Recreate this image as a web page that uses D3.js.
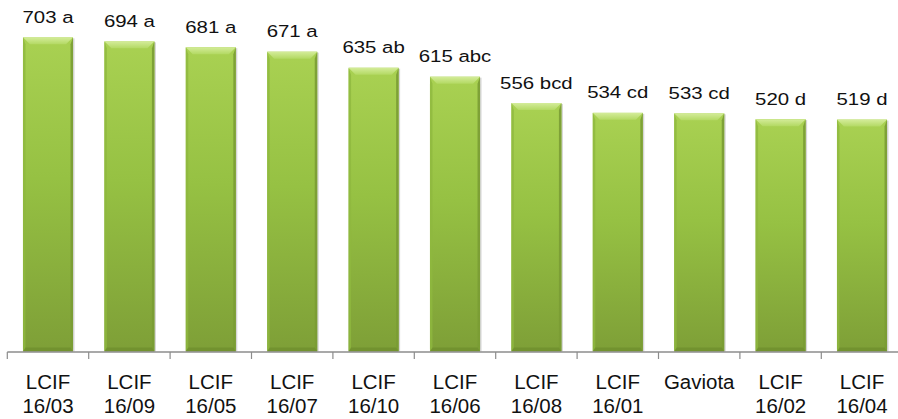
<!DOCTYPE html>
<html>
<head>
<meta charset="utf-8">
<script src="https://cdn.jsdelivr.net/npm/d3@7"></script>
<style>
  html, body { margin: 0; padding: 0; background: #ffffff; }
  svg { display: block; }
  text { font-family: "Liberation Sans", Arimo, Arial, sans-serif; font-weight: 400; fill: #111; }
</style>
</head>
<body>
<svg id="chart" width="898" height="419"></svg>
<script>
// Yield per line (mean) with significance letters
const categories = ["LCIF 16/03", "LCIF 16/09", "LCIF 16/05", "LCIF 16/07", "LCIF 16/10",
                    "LCIF 16/06", "LCIF 16/08", "LCIF 16/01", "Gaviota", "LCIF 16/02", "LCIF 16/04"];
const values  = [703, 694, 681, 671, 635, 615, 556, 534, 533, 520, 519];
const letters = ["a", "a", "a", "a", "ab", "abc", "bcd", "cd", "cd", "d", "d"];

const svg = d3.select("#chart");
const axisY = 352;

const x = d3.scaleBand()
  .domain(categories)
  .range([7.3, 902.7])
  .paddingInner(0.385)
  .paddingOuter(0.1925);

const y = d3.scaleLinear()
  .domain([0, 800])
  .range([351.5, -6]);

// Gradients for the bevelled bars
const defs = svg.append("defs");
const bodyGrad = defs.append("linearGradient").attr("id", "barBody")
  .attr("x1", 0).attr("y1", 0).attr("x2", 0).attr("y2", 1);
bodyGrad.append("stop").attr("offset", "0%").attr("stop-color", "#a9d152");
bodyGrad.append("stop").attr("offset", "45%").attr("stop-color", "#96c143");
bodyGrad.append("stop").attr("offset", "100%").attr("stop-color", "#7e9f37");

const topGrad = defs.append("linearGradient").attr("id", "barTop")
  .attr("x1", 0).attr("y1", 0).attr("x2", 0).attr("y2", 1);
topGrad.append("stop").attr("offset", "0%").attr("stop-color", "#d4ec9a");
topGrad.append("stop").attr("offset", "100%").attr("stop-color", "#b3d963");

const data = categories.map((c, i) => ({ c, v: values[i], l: letters[i] }));
const bev = 7;

const bars = svg.append("g").selectAll("g.bar").data(data).join("g").attr("class", "bar");

// soft shadow on the right side
bars.append("rect")
  .attr("x", d => x(d.c) + 1.5)
  .attr("y", d => y(d.v) + 1)
  .attr("width", x.bandwidth())
  .attr("height", d => y(0) - y(d.v) - 1)
  .attr("fill", "#8a8a8a").attr("opacity", 0.35);

bars.append("rect")
  .attr("x", d => x(d.c))
  .attr("y", d => y(d.v))
  .attr("width", x.bandwidth())
  .attr("height", d => y(0) - y(d.v))
  .attr("fill", "url(#barBody)");

// top bevel
bars.append("polygon")
  .attr("points", d => {
    const x0 = x(d.c), x1 = x0 + x.bandwidth(), t = y(d.v);
    return [[x0, t], [x1, t], [x1 - bev, t + bev], [x0 + bev, t + bev]].join(" ");
  })
  .attr("fill", "url(#barTop)");

// left and right bevels
bars.append("polygon")
  .attr("points", d => {
    const x0 = x(d.c), t = y(d.v), b = y(0);
    return [[x0, t], [x0 + 2.5, t + bev], [x0 + 2.5, b - 3], [x0, b]].join(" ");
  })
  .attr("fill", "#8fb83f").attr("opacity", 0.8);
bars.append("polygon")
  .attr("points", d => {
    const x1 = x(d.c) + x.bandwidth(), t = y(d.v), b = y(0);
    return [[x1, t], [x1 - 2.5, t + bev], [x1 - 2.5, b - 3], [x1, b]].join(" ");
  })
  .attr("fill", "#7a9c34").attr("opacity", 0.9);

// bottom bevel
bars.append("polygon")
  .attr("points", d => {
    const x0 = x(d.c), x1 = x0 + x.bandwidth(), b = y(0);
    return [[x0, b], [x1, b], [x1 - 2.5, b - 4], [x0 + 2.5, b - 4]].join(" ");
  })
  .attr("fill", "#6f8f2d").attr("opacity", 0.8);

// value + letter labels
svg.append("g").selectAll("text").data(data).join("text")
  .attr("transform", d => `translate(${x(d.c) + x.bandwidth() / 2},${y(d.v) - 14.5}) scale(1.2,1)`)
  .attr("text-anchor", "middle")
  .style("font-size", "17px")
  .text(d => `${d.v} ${d.l}`);

// category axis with ticks between bars
const step = x.step();
const start = x.range()[0];
svg.append("line")
  .attr("x1", start).attr("x2", 898)
  .attr("y1", axisY).attr("y2", axisY)
  .attr("stroke", "#8c8c8c").attr("stroke-width", 1.5);
const tickPos = d3.range(categories.length + 1).map(i => start + i * step);
svg.append("g").selectAll("line").data(tickPos).join("line")
  .attr("x1", d => d).attr("x2", d => d)
  .attr("y1", axisY).attr("y2", axisY + 7)
  .attr("stroke", "#8c8c8c").attr("stroke-width", 1.2);

const catLabels = svg.append("g").selectAll("text").data(categories).join("text")
  .attr("transform", d => `translate(${x(d) + x.bandwidth() / 2},389) scale(1.05,1)`)
  .attr("text-anchor", "middle")
  .style("font-size", "19.5px");
catLabels.selectAll("tspan").data(d => d.split(" ")).join("tspan")
  .attr("x", 0)
  .attr("dy", (d, i) => i === 0 ? 0 : 24)
  .text(d => d);
</script>
</body>
</html>
